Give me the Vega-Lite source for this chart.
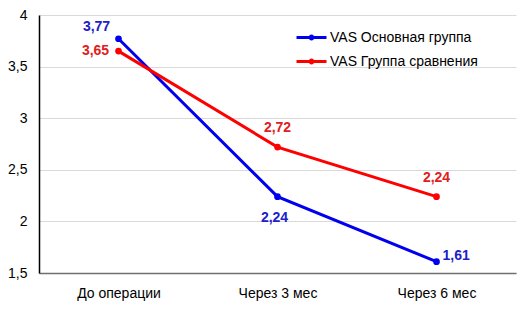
{
  "$schema": "https://vega.github.io/schema/vega-lite/v6.json",
  "autosize": {"type": "none"},
  "width": 477,
  "height": 258,
  "padding": {"left": 39, "top": 15, "right": 15, "bottom": 46},
  "background": "white",
  "config": {
    "locale": {"number": {"decimal": ",", "thousands": " ", "grouping": [3], "currency": ["", ""]}},
    "view": {"stroke": null},
    "font": "Liberation Sans"
  },
  "data": {
    "values": [
      {"time": "До операции", "group": "VAS Основная группа", "value": 3.77},
      {"time": "Через 3 мес", "group": "VAS Основная группа", "value": 2.24},
      {"time": "Через 6 мес", "group": "VAS Основная группа", "value": 1.61},
      {"time": "До операции", "group": "VAS Группа сравнения", "value": 3.65},
      {"time": "Через 3 мес", "group": "VAS Группа сравнения", "value": 2.72},
      {"time": "Через 6 мес", "group": "VAS Группа сравнения", "value": 2.24}
    ]
  },
  "encoding": {
    "x": {
      "field": "time", "type": "ordinal", "sort": null,
      "scale": {"type": "point", "padding": 0.5},
      "axis": {"title": null, "labelAngle": 0, "ticks": false, "domainColor": "#707070", "domainWidth": 1.5, "labelFontSize": 14, "labelColor": "#000000", "labelPadding": 13, "grid": false}
    },
    "y": {
      "field": "value", "type": "quantitative",
      "scale": {"domain": [1.5, 4], "nice": false, "zero": false},
      "axis": {"title": null, "values": [1.5, 2, 2.5, 3, 3.5, 4], "format": "~g", "ticks": false, "domainColor": "#000000", "domainWidth": 1.5, "labelFontSize": 14, "labelColor": "#000000", "labelPadding": 12, "gridColor": "#d9d9d9"}
    }
  },
  "layer": [
    {
      "mark": {"type": "line", "strokeWidth": 3},
      "encoding": {
        "color": {
          "field": "group", "type": "nominal",
          "scale": {"domain": ["VAS Основная группа", "VAS Группа сравнения"], "range": ["#0000ee", "#ff0000"]},
          "legend": {
            "title": null, "orient": "none", "legendX": 256, "legendY": 6,
            "symbolType": "M-1,0L1,0M0.1,0A0.1,0.1 0 1,1 -0.1,0A0.1,0.1 0 1,1 0.1,0", "symbolSize": 900, "symbolStrokeWidth": 3,
            "labelFontSize": 14, "labelColor": "#000000", "labelOffset": 2, "rowPadding": 0, "padding": 0
          }
        }
      }
    },
    {
      "mark": {"type": "point", "filled": true, "size": 45, "opacity": 1},
      "encoding": {
        "color": {"field": "group", "type": "nominal", "scale": {"domain": ["VAS Основная группа", "VAS Группа сравнения"], "range": ["#3050d0", "#e04040"]}, "legend": null}
      }
    },
    {
      "transform": [{"filter": "datum.group == 'VAS Основная группа' && datum.time == 'До операции'"}],
      "mark": {"type": "text", "fontWeight": "bold", "fontSize": 14, "dx": -22, "dy": -12, "color": "#2020c8"},
      "encoding": {"text": {"field": "value", "type": "quantitative", "format": ".2f"}}
    },
    {
      "transform": [{"filter": "datum.group == 'VAS Основная группа' && datum.time == 'Через 3 мес'"}],
      "mark": {"type": "text", "fontWeight": "bold", "fontSize": 14, "dx": -3, "dy": 21, "color": "#2020c8"},
      "encoding": {"text": {"field": "value", "type": "quantitative", "format": ".2f"}}
    },
    {
      "transform": [{"filter": "datum.group == 'VAS Основная группа' && datum.time == 'Через 6 мес'"}],
      "mark": {"type": "text", "fontWeight": "bold", "fontSize": 14, "align": "left", "dx": 6, "dy": -6, "color": "#2020c8"},
      "encoding": {"text": {"field": "value", "type": "quantitative", "format": ".2f"}}
    },
    {
      "transform": [{"filter": "datum.group == 'VAS Группа сравнения' && datum.time == 'До операции'"}],
      "mark": {"type": "text", "fontWeight": "bold", "fontSize": 14, "dx": -23, "dy": 0, "color": "#e02020"},
      "encoding": {"text": {"field": "value", "type": "quantitative", "format": ".2f"}}
    },
    {
      "transform": [{"filter": "datum.group == 'VAS Группа сравнения' && datum.time != 'До операции'"}],
      "mark": {"type": "text", "fontWeight": "bold", "fontSize": 14, "dx": 0, "dy": -19, "color": "#e02020"},
      "encoding": {"text": {"field": "value", "type": "quantitative", "format": ".2f"}}
    }
  ]
}
